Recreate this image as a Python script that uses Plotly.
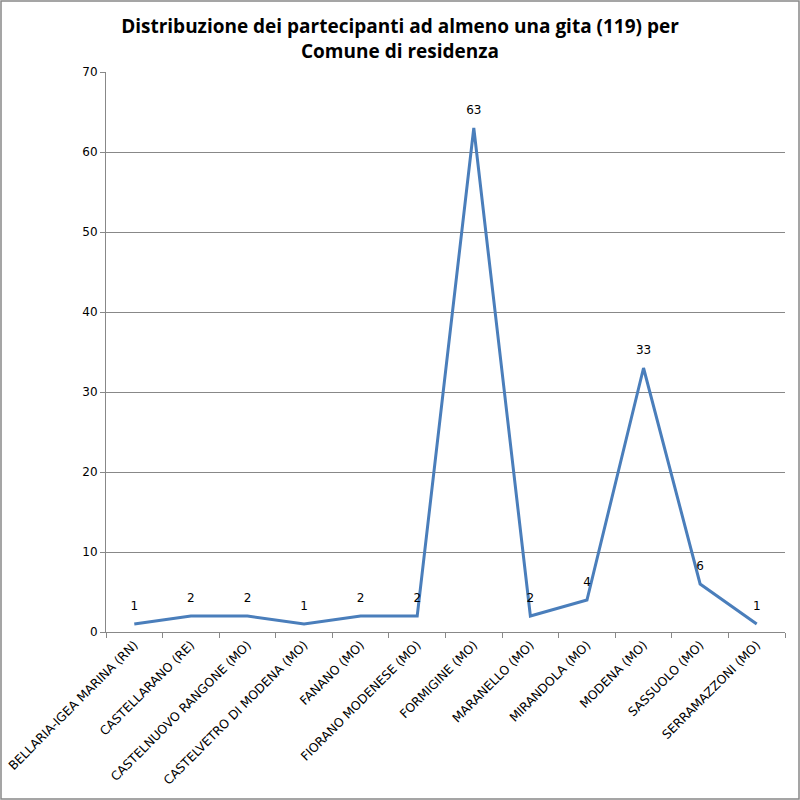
import plotly.graph_objects as go

categories = ["BELLARIA-IGEA MARINA (RN)", "CASTELLARANO (RE)", "CASTELNUOVO RANGONE (MO)",
              "CASTELVETRO DI MODENA (MO)", "FANANO (MO)", "FIORANO MODENESE (MO)",
              "FORMIGINE (MO)", "MARANELLO (MO)", "MIRANDOLA (MO)", "MODENA (MO)",
              "SASSUOLO (MO)", "SERRAMAZZONI (MO)"]
values = [1, 2, 2, 1, 2, 2, 63, 2, 4, 33, 6, 1]
y_ticks = [0, 10, 20, 30, 40, 50, 60, 70]

fig = go.Figure(go.Scatter(
    x=categories, y=values, mode="lines+markers+text",
    line=dict(color="#4a7ebb", width=3),
    marker=dict(size=16, color="rgba(0,0,0,0)"),
    text=[str(v) for v in values], textposition="top center",
    textfont=dict(family="DejaVu Sans", size=12, color="black"),
    cliponaxis=False,
))

fig.update_layout(
    width=800, height=800,
    paper_bgcolor="white", plot_bgcolor="white",
    margin=dict(l=106, r=15, t=72, b=168, autoexpand=False),
    showlegend=False,
    title=dict(text="<b>Distribuzione dei partecipanti ad almeno una gita (119) per<br>Comune di residenza</b>",
               x=0.5, xanchor="center", xref="container", yref="container", y=1 - 33 / 800, yanchor="middle",
               font=dict(family="Open Sans", size=19, color="black")),
    shapes=[dict(type="rect", xref="paper", yref="paper", x0=-105/679, x1=1+14/679,
                 y0=-167/560, y1=1+71/560, line=dict(color="#888888", width=1.5))],
)
fig.update_xaxes(
    automargin=False, range=[-0.5, len(categories) - 0.5],
    tickangle=-45, tickson="boundaries", ticks="outside", ticklen=5, tickcolor="#888888",
    showline=True, linecolor="#888888", linewidth=1, showgrid=False,
    tickfont=dict(family="DejaVu Sans", size=12.3, color="black"),
)
fig.update_yaxes(
    automargin=False,
    range=[0, 70], tickvals=y_ticks, ticks="outside", ticklen=5, tickcolor="#888888",
    showline=True, linecolor="#888888", linewidth=1, showgrid=True, gridcolor="#888888",
    gridwidth=1, zeroline=False,
    tickfont=dict(family="DejaVu Sans", size=12, color="black"),
)

fig.write_html("out.html", config={"displayModeBar": False},
               post_script="document.body.style.margin='0px';")
